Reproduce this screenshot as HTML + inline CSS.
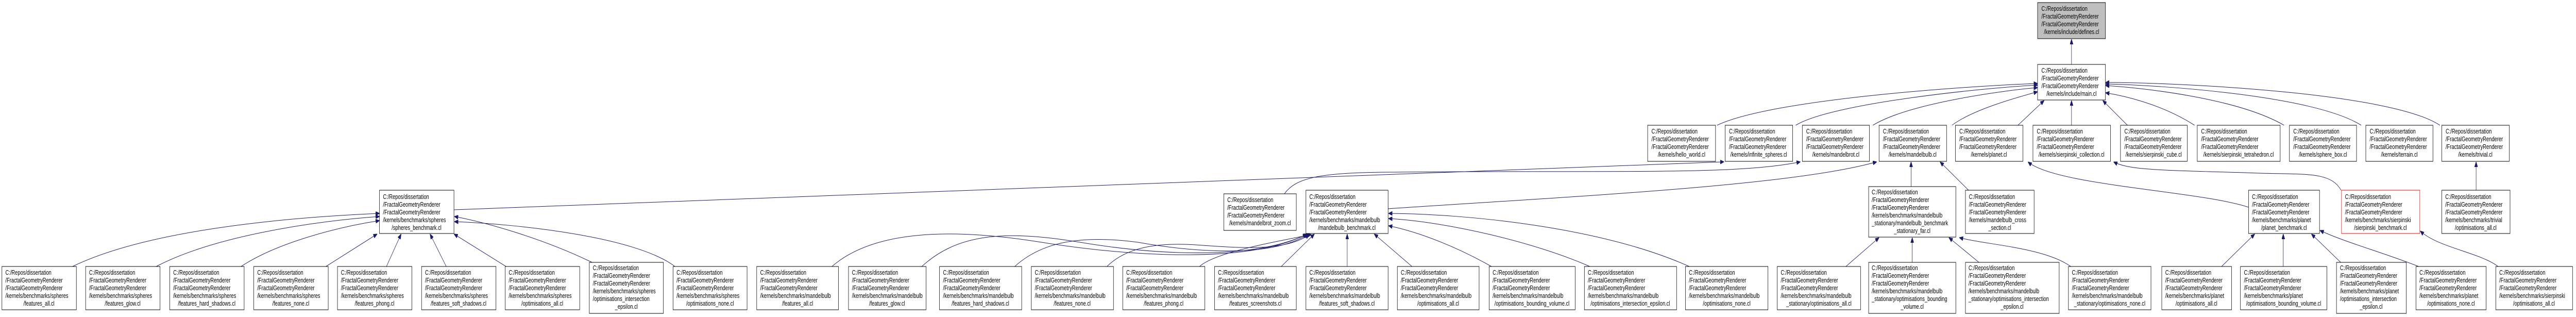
<!DOCTYPE html>
<html><head><meta charset="utf-8">
<style>
html,body{margin:0;padding:0;background:#fff;width:100%;height:100%;overflow:hidden;}
svg{display:block;width:100vw;height:100vh;}
.n rect{fill:#fff;stroke:#000;stroke-width:1;}
text{font-family:"Liberation Sans",Arial,sans-serif;font-size:12.5px;fill:#000;}
.m{text-anchor:middle;}
.e{fill:none;stroke:#191970;stroke-width:1;}
</style></head><body>
<svg viewBox="0 0 6679 615" preserveAspectRatio="none" xmlns="http://www.w3.org/2000/svg">
<defs><marker id="a" markerUnits="userSpaceOnUse" markerWidth="10" markerHeight="8" refX="10" refY="4" orient="auto"><path d="M0,0 L10,4 L0,8 z" fill="#191970" stroke="#191970"/></marker></defs>
<rect x="0" y="0" width="6679" height="615" fill="#fff"/>

<g class="e">
<path class="e" marker-end="url(#a)" d="M5371,125 L5371,76"/>
<path class="e" marker-end="url(#a)" d="M4452,243 C4600,190 5150,165 5283,162"/>
<path class="e" marker-end="url(#a)" d="M4656,243 C4750,200 5150,170 5283,165"/>
<path class="e" marker-end="url(#a)" d="M4856,243 C4950,200 5200,175 5283,170"/>
<path class="e" marker-end="url(#a)" d="M5061,243 C5120,210 5250,185 5283,178"/>
<path class="e" marker-end="url(#a)" d="M5232,243 L5300,195"/>
<path class="e" marker-end="url(#a)" d="M5371,243 L5371,195"/>
<path class="e" marker-end="url(#a)" d="M5516,243 L5452,195"/>
<path class="e" marker-end="url(#a)" d="M5690,243 C5600,200 5500,185 5459,180"/>
<path class="e" marker-end="url(#a)" d="M5922,243 C5800,190 5550,170 5459,166"/>
<path class="e" marker-end="url(#a)" d="M6122,243 C6000,185 5600,165 5459,163"/>
<path class="e" marker-end="url(#a)" d="M6326,243 C6200,180 5650,160 5459,160"/>

<path class="e" marker-end="url(#a)" d="M1177,407 L4470,314"/>
<path class="e" marker-end="url(#a)" d="M3330,376 C3360,345 3420,335 3600,334 C4200,330 4500,340 4668,314"/>
<path class="e" marker-end="url(#a)" d="M3599,405 C4100,380 4650,360 4866,314"/>
<path class="e" marker-end="url(#a)" d="M4955,362 L4955,314"/>
<path class="e" marker-end="url(#a)" d="M5104,369 L5030,314"/>
<path class="e" marker-end="url(#a)" d="M5830,402 C5700,370 5330,360 5258,314"/>
<path class="e" marker-end="url(#a)" d="M6070,369 C6040,330 5970,340 5820,335 C5600,330 5520,330 5480,314"/>
<path class="e" marker-end="url(#a)" d="M6420,369 L6420,314"/>

<path class="e" marker-end="url(#a)" d="M188,517 C400,440 800,420 984,414"/>
<path class="e" marker-end="url(#a)" d="M405,517 C550,460 800,430 984,420"/>
<path class="e" marker-end="url(#a)" d="M625,517 C720,470 880,440 984,428"/>
<path class="e" marker-end="url(#a)" d="M845,517 L978,454"/>
<path class="e" marker-end="url(#a)" d="M1002,517 L1040,454"/>
<path class="e" marker-end="url(#a)" d="M1157,517 L1115,454"/>
<path class="e" marker-end="url(#a)" d="M1312,517 L1177,454"/>
<path class="e" marker-end="url(#a)" d="M1535,509 C1400,460 1250,430 1178,420"/>
<path class="e" marker-end="url(#a)" d="M1750,517 C1650,460 1350,435 1178,430"/>

<path class="e" marker-end="url(#a)" d="M2157,517 C2260,450 2450,440 2700,470 C2950,500 3250,510 3388,454"/>
<path class="e" marker-end="url(#a)" d="M2390,517 C2480,455 2600,445 2800,470 C3000,495 3250,505 3390,454"/>
<path class="e" marker-end="url(#a)" d="M2631,517 C2700,470 2800,455 2950,470 C3100,490 3300,500 3392,454"/>
<path class="e" marker-end="url(#a)" d="M2870,517 C2920,480 3000,470 3100,475 C3200,480 3330,490 3395,455"/>
<path class="e" marker-end="url(#a)" d="M3110,517 C3150,490 3300,470 3400,455"/>
<path class="e" marker-end="url(#a)" d="M3322,517 L3408,454"/>
<path class="e" marker-end="url(#a)" d="M3493,517 L3493,454"/>
<path class="e" marker-end="url(#a)" d="M3661,517 L3563,454"/>
<path class="e" marker-end="url(#a)" d="M3867,517 C3780,480 3680,450 3600,438"/>
<path class="e" marker-end="url(#a)" d="M4122,517 C3980,470 3750,430 3600,424"/>
<path class="e" marker-end="url(#a)" d="M4380,517 C4150,440 3800,415 3600,414"/>

<path class="e" marker-end="url(#a)" d="M4786,517 L4872,461"/>
<path class="e" marker-end="url(#a)" d="M4958,509 L4958,461"/>
<path class="e" marker-end="url(#a)" d="M5131,509 L5053,461"/>
<path class="e" marker-end="url(#a)" d="M5369,517 C5300,480 5150,475 5080,461"/>

<path class="e" marker-end="url(#a)" d="M5760,517 L5846,454"/>
<path class="e" marker-end="url(#a)" d="M5920,517 L5920,454"/>
<path class="e" marker-end="url(#a)" d="M6069,509 L5993,454"/>
<path class="e" marker-end="url(#a)" d="M6271,517 C6180,490 6080,470 6015,447"/>
<path class="e" marker-end="url(#a)" d="M6477,517 C6430,490 6320,480 6275,448"/>
</g>

<g class="n"><rect x="5283" y="5" width="176" height="70" style="fill:#bfbfbf"/>
<text><tspan x="5293" y="21">C:/Repos/dissertation</tspan><tspan x="5293" y="36">/FractalGeometryRenderer</tspan><tspan x="5293" y="51">/FractalGeometryRenderer</tspan><tspan class="m" x="5371" y="66">/kernels/include/defines.cl</tspan></text></g>
<g class="n"><rect x="5283" y="125" width="176" height="69"/>
<text><tspan x="5293" y="141">C:/Repos/dissertation</tspan><tspan x="5293" y="156">/FractalGeometryRenderer</tspan><tspan x="5293" y="171">/FractalGeometryRenderer</tspan><tspan class="m" x="5371" y="186">/kernels/include/main.cl</tspan></text></g>

<g class="n"><rect x="4272" y="243" width="176" height="70"/>
<text><tspan x="4282" y="259">C:/Repos/dissertation</tspan><tspan x="4282" y="274">/FractalGeometryRenderer</tspan><tspan x="4282" y="289">/FractalGeometryRenderer</tspan><tspan class="m" x="4360" y="304">/kernels/hello_world.cl</tspan></text></g>
<g class="n"><rect x="4473" y="243" width="175" height="70"/>
<text><tspan x="4483" y="259">C:/Repos/dissertation</tspan><tspan x="4483" y="274">/FractalGeometryRenderer</tspan><tspan x="4483" y="289">/FractalGeometryRenderer</tspan><tspan class="m" x="4560" y="304">/kernels/infinite_spheres.cl</tspan></text></g>
<g class="n"><rect x="4673" y="243" width="174" height="70"/>
<text><tspan x="4683" y="259">C:/Repos/dissertation</tspan><tspan x="4683" y="274">/FractalGeometryRenderer</tspan><tspan x="4683" y="289">/FractalGeometryRenderer</tspan><tspan class="m" x="4760" y="304">/kernels/mandelbrot.cl</tspan></text></g>
<g class="n"><rect x="4872" y="243" width="175" height="70"/>
<text><tspan x="4882" y="259">C:/Repos/dissertation</tspan><tspan x="4882" y="274">/FractalGeometryRenderer</tspan><tspan x="4882" y="289">/FractalGeometryRenderer</tspan><tspan class="m" x="4959" y="304">/kernels/mandelbulb.cl</tspan></text></g>
<g class="n"><rect x="5070" y="243" width="175" height="70"/>
<text><tspan x="5080" y="259">C:/Repos/dissertation</tspan><tspan x="5080" y="274">/FractalGeometryRenderer</tspan><tspan x="5080" y="289">/FractalGeometryRenderer</tspan><tspan class="m" x="5157" y="304">/kernels/planet.cl</tspan></text></g>
<g class="n"><rect x="5271" y="243" width="201" height="70"/>
<text><tspan x="5281" y="259">C:/Repos/dissertation</tspan><tspan x="5281" y="274">/FractalGeometryRenderer</tspan><tspan x="5281" y="289">/FractalGeometryRenderer</tspan><tspan class="m" x="5371" y="304">/kernels/sierpinski_collection.cl</tspan></text></g>
<g class="n"><rect x="5498" y="243" width="173" height="70"/>
<text><tspan x="5508" y="259">C:/Repos/dissertation</tspan><tspan x="5508" y="274">/FractalGeometryRenderer</tspan><tspan x="5508" y="289">/FractalGeometryRenderer</tspan><tspan class="m" x="5584" y="304">/kernels/sierpinski_cube.cl</tspan></text></g>
<g class="n"><rect x="5697" y="243" width="215" height="70"/>
<text><tspan x="5707" y="259">C:/Repos/dissertation</tspan><tspan x="5707" y="274">/FractalGeometryRenderer</tspan><tspan x="5707" y="289">/FractalGeometryRenderer</tspan><tspan class="m" x="5804" y="304">/kernels/sierpinski_tetrahedron.cl</tspan></text></g>
<g class="n"><rect x="5936" y="243" width="174" height="70"/>
<text><tspan x="5946" y="259">C:/Repos/dissertation</tspan><tspan x="5946" y="274">/FractalGeometryRenderer</tspan><tspan x="5946" y="289">/FractalGeometryRenderer</tspan><tspan class="m" x="6023" y="304">/kernels/sphere_box.cl</tspan></text></g>
<g class="n"><rect x="6134" y="243" width="174" height="70"/>
<text><tspan x="6144" y="259">C:/Repos/dissertation</tspan><tspan x="6144" y="274">/FractalGeometryRenderer</tspan><tspan x="6144" y="289">/FractalGeometryRenderer</tspan><tspan class="m" x="6221" y="304">/kernels/terrain.cl</tspan></text></g>
<g class="n"><rect x="6331" y="243" width="175" height="70"/>
<text><tspan x="6341" y="259">C:/Repos/dissertation</tspan><tspan x="6341" y="274">/FractalGeometryRenderer</tspan><tspan x="6341" y="289">/FractalGeometryRenderer</tspan><tspan class="m" x="6418" y="304">/kernels/trivial.cl</tspan></text></g>

<g class="n"><rect x="984" y="369" width="193" height="84"/>
<text><tspan x="993" y="386">C:/Repos/dissertation</tspan><tspan x="993" y="401">/FractalGeometryRenderer</tspan><tspan x="993" y="416">/FractalGeometryRenderer</tspan><tspan x="993" y="431">/kernels/benchmarks/spheres</tspan><tspan class="m" x="1080" y="446">/spheres_benchmark.cl</tspan></text></g>
<g class="n"><rect x="3173" y="376" width="188" height="71"/>
<text><tspan x="3182" y="392">C:/Repos/dissertation</tspan><tspan x="3182" y="407">/FractalGeometryRenderer</tspan><tspan x="3182" y="422">/FractalGeometryRenderer</tspan><tspan class="m" x="3267" y="437">/kernels/mandelbrot_zoom.cl</tspan></text></g>
<g class="n"><rect x="3386" y="369" width="213" height="84"/>
<text><tspan x="3395" y="386">C:/Repos/dissertation</tspan><tspan x="3395" y="401">/FractalGeometryRenderer</tspan><tspan x="3395" y="416">/FractalGeometryRenderer</tspan><tspan x="3395" y="431">/kernels/benchmarks/mandelbulb</tspan><tspan class="m" x="3492" y="446">/mandelbulb_benchmark.cl</tspan></text></g>
<g class="n"><rect x="4845" y="362" width="226" height="98"/>
<text><tspan x="4853" y="377">C:/Repos/dissertation</tspan><tspan x="4853" y="392">/FractalGeometryRenderer</tspan><tspan x="4853" y="407">/FractalGeometryRenderer</tspan><tspan x="4853" y="422">/kernels/benchmarks/mandelbulb</tspan><tspan x="4853" y="437">_stationary/mandelbulb_benchmark</tspan><tspan class="m" x="4958" y="452">_stationary_far.cl</tspan></text></g>
<g class="n"><rect x="5096" y="369" width="178" height="84"/>
<text><tspan x="5105" y="386">C:/Repos/dissertation</tspan><tspan x="5105" y="401">/FractalGeometryRenderer</tspan><tspan x="5105" y="416">/FractalGeometryRenderer</tspan><tspan x="5105" y="431">/kernels/mandelbulb_cross</tspan><tspan class="m" x="5185" y="446">_section.cl</tspan></text></g>
<g class="n"><rect x="5830" y="369" width="184" height="84"/>
<text><tspan x="5839" y="386">C:/Repos/dissertation</tspan><tspan x="5839" y="401">/FractalGeometryRenderer</tspan><tspan x="5839" y="416">/FractalGeometryRenderer</tspan><tspan x="5839" y="431">/kernels/benchmarks/planet</tspan><tspan class="m" x="5922" y="446">/planet_benchmark.cl</tspan></text></g>
<g class="n"><rect x="6071" y="369" width="203" height="84" style="stroke:#ff0000"/>
<text><tspan x="6080" y="386">C:/Repos/dissertation</tspan><tspan x="6080" y="401">/FractalGeometryRenderer</tspan><tspan x="6080" y="416">/FractalGeometryRenderer</tspan><tspan x="6080" y="431">/kernels/benchmarks/sierpinski</tspan><tspan class="m" x="6172" y="446">/sierpinski_benchmark.cl</tspan></text></g>
<g class="n"><rect x="6331" y="369" width="177" height="84"/>
<text><tspan x="6340" y="386">C:/Repos/dissertation</tspan><tspan x="6340" y="401">/FractalGeometryRenderer</tspan><tspan x="6340" y="416">/FractalGeometryRenderer</tspan><tspan x="6340" y="431">/kernels/benchmarks/trivial</tspan><tspan class="m" x="6419" y="446">/optimisations_all.cl</tspan></text></g>

<g class="n"><rect x="5" y="517" width="193" height="84"/>
<text><tspan x="14" y="533">C:/Repos/dissertation</tspan><tspan x="14" y="548">/FractalGeometryRenderer</tspan><tspan x="14" y="563">/FractalGeometryRenderer</tspan><tspan x="14" y="578">/kernels/benchmarks/spheres</tspan><tspan class="m" x="101" y="593">/features_all.cl</tspan></text></g>
<g class="n"><rect x="222" y="517" width="193" height="84"/>
<text><tspan x="231" y="533">C:/Repos/dissertation</tspan><tspan x="231" y="548">/FractalGeometryRenderer</tspan><tspan x="231" y="563">/FractalGeometryRenderer</tspan><tspan x="231" y="578">/kernels/benchmarks/spheres</tspan><tspan class="m" x="318" y="593">/features_glow.cl</tspan></text></g>
<g class="n"><rect x="440" y="517" width="193" height="84"/>
<text><tspan x="449" y="533">C:/Repos/dissertation</tspan><tspan x="449" y="548">/FractalGeometryRenderer</tspan><tspan x="449" y="563">/FractalGeometryRenderer</tspan><tspan x="449" y="578">/kernels/benchmarks/spheres</tspan><tspan class="m" x="536" y="593">/features_hard_shadows.cl</tspan></text></g>
<g class="n"><rect x="658" y="517" width="193" height="84"/>
<text><tspan x="667" y="533">C:/Repos/dissertation</tspan><tspan x="667" y="548">/FractalGeometryRenderer</tspan><tspan x="667" y="563">/FractalGeometryRenderer</tspan><tspan x="667" y="578">/kernels/benchmarks/spheres</tspan><tspan class="m" x="754" y="593">/features_none.cl</tspan></text></g>
<g class="n"><rect x="875" y="517" width="193" height="84"/>
<text><tspan x="884" y="533">C:/Repos/dissertation</tspan><tspan x="884" y="548">/FractalGeometryRenderer</tspan><tspan x="884" y="563">/FractalGeometryRenderer</tspan><tspan x="884" y="578">/kernels/benchmarks/spheres</tspan><tspan class="m" x="971" y="593">/features_phong.cl</tspan></text></g>
<g class="n"><rect x="1093" y="517" width="193" height="84"/>
<text><tspan x="1102" y="533">C:/Repos/dissertation</tspan><tspan x="1102" y="548">/FractalGeometryRenderer</tspan><tspan x="1102" y="563">/FractalGeometryRenderer</tspan><tspan x="1102" y="578">/kernels/benchmarks/spheres</tspan><tspan class="m" x="1189" y="593">/features_soft_shadows.cl</tspan></text></g>
<g class="n"><rect x="1310" y="517" width="193" height="84"/>
<text><tspan x="1319" y="533">C:/Repos/dissertation</tspan><tspan x="1319" y="548">/FractalGeometryRenderer</tspan><tspan x="1319" y="563">/FractalGeometryRenderer</tspan><tspan x="1319" y="578">/kernels/benchmarks/spheres</tspan><tspan class="m" x="1406" y="593">/optimisations_all.cl</tspan></text></g>
<g class="n"><rect x="1528" y="509" width="192" height="99"/>
<text><tspan x="1537" y="524">C:/Repos/dissertation</tspan><tspan x="1537" y="539">/FractalGeometryRenderer</tspan><tspan x="1537" y="554">/FractalGeometryRenderer</tspan><tspan x="1537" y="569">/kernels/benchmarks/spheres</tspan><tspan x="1537" y="584">/optimisations_intersection</tspan><tspan class="m" x="1624" y="599">_epsilon.cl</tspan></text></g>
<g class="n"><rect x="1745" y="517" width="192" height="84"/>
<text><tspan x="1754" y="533">C:/Repos/dissertation</tspan><tspan x="1754" y="548">/FractalGeometryRenderer</tspan><tspan x="1754" y="563">/FractalGeometryRenderer</tspan><tspan x="1754" y="578">/kernels/benchmarks/spheres</tspan><tspan class="m" x="1841" y="593">/optimisations_none.cl</tspan></text></g>
<g class="n"><rect x="1962" y="517" width="212" height="84"/>
<text><tspan x="1971" y="533">C:/Repos/dissertation</tspan><tspan x="1971" y="548">/FractalGeometryRenderer</tspan><tspan x="1971" y="563">/FractalGeometryRenderer</tspan><tspan x="1971" y="578">/kernels/benchmarks/mandelbulb</tspan><tspan class="m" x="2068" y="593">/features_all.cl</tspan></text></g>
<g class="n"><rect x="2200" y="517" width="201" height="84"/>
<text><tspan x="2209" y="533">C:/Repos/dissertation</tspan><tspan x="2209" y="548">/FractalGeometryRenderer</tspan><tspan x="2209" y="563">/FractalGeometryRenderer</tspan><tspan x="2209" y="578">/kernels/benchmarks/mandelbulb</tspan><tspan class="m" x="2300" y="593">/features_glow.cl</tspan></text></g>
<g class="n"><rect x="2436" y="517" width="213" height="84"/>
<text><tspan x="2445" y="533">C:/Repos/dissertation</tspan><tspan x="2445" y="548">/FractalGeometryRenderer</tspan><tspan x="2445" y="563">/FractalGeometryRenderer</tspan><tspan x="2445" y="578">/kernels/benchmarks/mandelbulb</tspan><tspan class="m" x="2542" y="593">/features_hard_shadows.cl</tspan></text></g>
<g class="n"><rect x="2674" y="517" width="213" height="84"/>
<text><tspan x="2683" y="533">C:/Repos/dissertation</tspan><tspan x="2683" y="548">/FractalGeometryRenderer</tspan><tspan x="2683" y="563">/FractalGeometryRenderer</tspan><tspan x="2683" y="578">/kernels/benchmarks/mandelbulb</tspan><tspan class="m" x="2780" y="593">/features_none.cl</tspan></text></g>
<g class="n"><rect x="2911" y="517" width="213" height="84"/>
<text><tspan x="2920" y="533">C:/Repos/dissertation</tspan><tspan x="2920" y="548">/FractalGeometryRenderer</tspan><tspan x="2920" y="563">/FractalGeometryRenderer</tspan><tspan x="2920" y="578">/kernels/benchmarks/mandelbulb</tspan><tspan class="m" x="3017" y="593">/features_phong.cl</tspan></text></g>
<g class="n"><rect x="3149" y="517" width="212" height="84"/>
<text><tspan x="3158" y="533">C:/Repos/dissertation</tspan><tspan x="3158" y="548">/FractalGeometryRenderer</tspan><tspan x="3158" y="563">/FractalGeometryRenderer</tspan><tspan x="3158" y="578">/kernels/benchmarks/mandelbulb</tspan><tspan class="m" x="3255" y="593">/features_screenshots.cl</tspan></text></g>
<g class="n"><rect x="3386" y="517" width="213" height="84"/>
<text><tspan x="3395" y="533">C:/Repos/dissertation</tspan><tspan x="3395" y="548">/FractalGeometryRenderer</tspan><tspan x="3395" y="563">/FractalGeometryRenderer</tspan><tspan x="3395" y="578">/kernels/benchmarks/mandelbulb</tspan><tspan class="m" x="3492" y="593">/features_soft_shadows.cl</tspan></text></g>
<g class="n"><rect x="3623" y="517" width="212" height="84"/>
<text><tspan x="3632" y="533">C:/Repos/dissertation</tspan><tspan x="3632" y="548">/FractalGeometryRenderer</tspan><tspan x="3632" y="563">/FractalGeometryRenderer</tspan><tspan x="3632" y="578">/kernels/benchmarks/mandelbulb</tspan><tspan class="m" x="3729" y="593">/optimisations_all.cl</tspan></text></g>
<g class="n"><rect x="3861" y="517" width="223" height="84"/>
<text><tspan x="3870" y="533">C:/Repos/dissertation</tspan><tspan x="3870" y="548">/FractalGeometryRenderer</tspan><tspan x="3870" y="563">/FractalGeometryRenderer</tspan><tspan x="3870" y="578">/kernels/benchmarks/mandelbulb</tspan><tspan class="m" x="3972" y="593">/optimisations_bounding_volume.cl</tspan></text></g>
<g class="n"><rect x="4108" y="517" width="239" height="84"/>
<text><tspan x="4117" y="533">C:/Repos/dissertation</tspan><tspan x="4117" y="548">/FractalGeometryRenderer</tspan><tspan x="4117" y="563">/FractalGeometryRenderer</tspan><tspan x="4117" y="578">/kernels/benchmarks/mandelbulb</tspan><tspan class="m" x="4227" y="593">/optimisations_intersection_epsilon.cl</tspan></text></g>
<g class="n"><rect x="4370" y="517" width="214" height="84"/>
<text><tspan x="4379" y="533">C:/Repos/dissertation</tspan><tspan x="4379" y="548">/FractalGeometryRenderer</tspan><tspan x="4379" y="563">/FractalGeometryRenderer</tspan><tspan x="4379" y="578">/kernels/benchmarks/mandelbulb</tspan><tspan class="m" x="4477" y="593">/optimisations_none.cl</tspan></text></g>
<g class="n"><rect x="4608" y="517" width="216" height="84"/>
<text><tspan x="4617" y="533">C:/Repos/dissertation</tspan><tspan x="4617" y="548">/FractalGeometryRenderer</tspan><tspan x="4617" y="563">/FractalGeometryRenderer</tspan><tspan x="4617" y="578">/kernels/benchmarks/mandelbulb</tspan><tspan class="m" x="4716" y="593">_stationary/optimisations_all.cl</tspan></text></g>
<g class="n"><rect x="4845" y="509" width="226" height="99"/>
<text><tspan x="4853" y="524">C:/Repos/dissertation</tspan><tspan x="4853" y="539">/FractalGeometryRenderer</tspan><tspan x="4853" y="554">/FractalGeometryRenderer</tspan><tspan x="4853" y="569">/kernels/benchmarks/mandelbulb</tspan><tspan x="4853" y="584">_stationary/optimisations_bounding</tspan><tspan class="m" x="4958" y="599">_volume.cl</tspan></text></g>
<g class="n"><rect x="5096" y="509" width="243" height="99"/>
<text><tspan x="5104" y="524">C:/Repos/dissertation</tspan><tspan x="5104" y="539">/FractalGeometryRenderer</tspan><tspan x="5104" y="554">/FractalGeometryRenderer</tspan><tspan x="5104" y="569">/kernels/benchmarks/mandelbulb</tspan><tspan x="5104" y="584">_stationary/optimisations_intersection</tspan><tspan class="m" x="5217" y="599">_epsilon.cl</tspan></text></g>
<g class="n"><rect x="5363" y="517" width="214" height="84"/>
<text><tspan x="5372" y="533">C:/Repos/dissertation</tspan><tspan x="5372" y="548">/FractalGeometryRenderer</tspan><tspan x="5372" y="563">/FractalGeometryRenderer</tspan><tspan x="5372" y="578">/kernels/benchmarks/mandelbulb</tspan><tspan class="m" x="5470" y="593">_stationary/optimisations_none.cl</tspan></text></g>
<g class="n"><rect x="5605" y="517" width="181" height="84"/>
<text><tspan x="5614" y="533">C:/Repos/dissertation</tspan><tspan x="5614" y="548">/FractalGeometryRenderer</tspan><tspan x="5614" y="563">/FractalGeometryRenderer</tspan><tspan x="5614" y="578">/kernels/benchmarks/planet</tspan><tspan class="m" x="5695" y="593">/optimisations_all.cl</tspan></text></g>
<g class="n"><rect x="5809" y="517" width="224" height="84"/>
<text><tspan x="5818" y="533">C:/Repos/dissertation</tspan><tspan x="5818" y="548">/FractalGeometryRenderer</tspan><tspan x="5818" y="563">/FractalGeometryRenderer</tspan><tspan x="5818" y="578">/kernels/benchmarks/planet</tspan><tspan class="m" x="5921" y="593">/optimisations_bounding_volume.cl</tspan></text></g>
<g class="n"><rect x="6058" y="509" width="181" height="99"/>
<text><tspan x="6067" y="524">C:/Repos/dissertation</tspan><tspan x="6067" y="539">/FractalGeometryRenderer</tspan><tspan x="6067" y="554">/FractalGeometryRenderer</tspan><tspan x="6067" y="569">/kernels/benchmarks/planet</tspan><tspan x="6067" y="584">/optimisations_intersection</tspan><tspan class="m" x="6148" y="599">_epsilon.cl</tspan></text></g>
<g class="n"><rect x="6264" y="517" width="182" height="84"/>
<text><tspan x="6273" y="533">C:/Repos/dissertation</tspan><tspan x="6273" y="548">/FractalGeometryRenderer</tspan><tspan x="6273" y="563">/FractalGeometryRenderer</tspan><tspan x="6273" y="578">/kernels/benchmarks/planet</tspan><tspan class="m" x="6355" y="593">/optimisations_none.cl</tspan></text></g>
<g class="n"><rect x="6471" y="517" width="199" height="84"/>
<text><tspan x="6480" y="533">C:/Repos/dissertation</tspan><tspan x="6480" y="548">/FractalGeometryRenderer</tspan><tspan x="6480" y="563">/FractalGeometryRenderer</tspan><tspan x="6480" y="578">/kernels/benchmarks/sierpinski</tspan><tspan class="m" x="6570" y="593">/optimisations_all.cl</tspan></text></g>
</svg>
</body></html>
